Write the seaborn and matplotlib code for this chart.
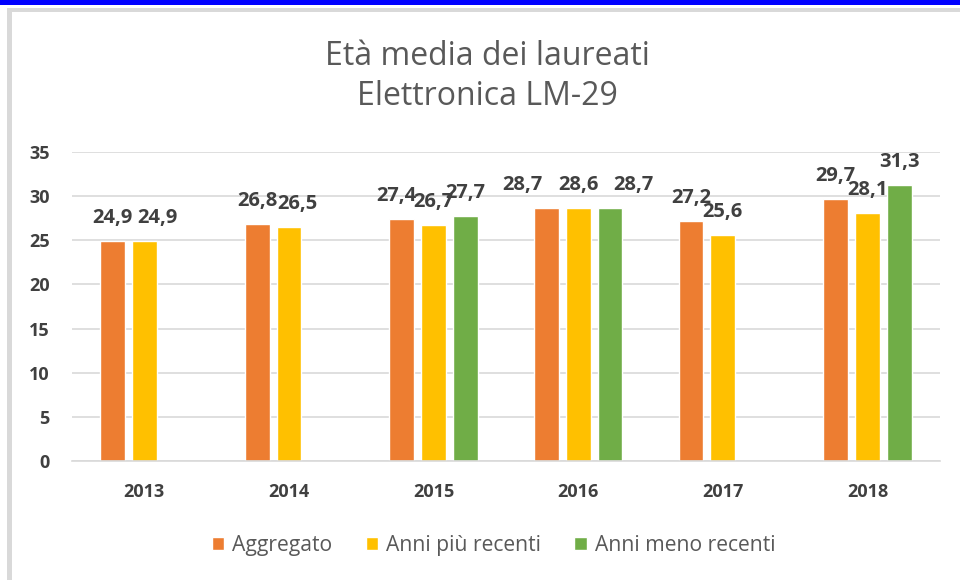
"""
Età media dei laureati - Elettronica LM-29
"""
import matplotlib.pyplot as plt
import numpy as np
import pandas as pd
import seaborn as sns
from matplotlib.patches import Rectangle

anni = ["2013", "2014", "2015", "2016", "2017", "2018"]
aggregato = [24.9, 26.8, 27.4, 28.7, 27.2, 29.7]
piu_recenti = [24.9, 26.5, 26.7, 28.6, 25.6, 28.1]
meno_recenti = [np.nan, np.nan, 27.7, 28.7, np.nan, 31.3]
serie = ["Aggregato", "Anni più recenti", "Anni meno recenti"]
colori = ["#ED7D31", "#FFC000", "#70AD47"]

df = pd.DataFrame({
    "anno": anni * 3,
    "serie": np.repeat(serie, len(anni)),
    "valore": aggregato + piu_recenti + meno_recenti,
})

# spostamenti orizzontali (px) delle etichette, come fa Excel per evitare sovrapposizioni
sposta = {("Anni più recenti", "2013"): 13, ("Anni più recenti", "2014"): 8,
          ("Aggregato", "2015"): -5,
          ("Aggregato", "2016"): -24, ("Anni meno recenti", "2016"): 23}

sns.set_style("white")
plt.rcParams["font.family"] = ["Open Sans", "DejaVu Sans"]

fig = plt.figure(figsize=(9.6, 5.8), dpi=100)
ax = fig.add_axes([0.075, 0.205, 0.904, 0.533])

sns.barplot(
    data=df, x="anno", y="valore", hue="serie", order=anni, hue_order=serie,
    palette=colori, width=0.66, gap=0.22, saturation=1, errorbar=None, ax=ax,
)

# etichette dati
for s, cont in zip(serie, ax.containers):
    for bar in cont:
        h = bar.get_height()
        if np.isnan(h):
            continue
        xc = bar.get_x() + bar.get_width() / 2
        anno = anni[int(round(xc))]
        dx = sposta.get((s, anno), 0) * 0.72
        ax.annotate(
            f"{h:.1f}".replace(".", ","), (xc, h),
            xytext=(dx, 13), textcoords="offset points",
            ha="center", va="baseline", fontsize=14.5, fontweight="bold",
            color="#404040",
        )

ax.set_ylim(0, 35)
ax.set_yticks(range(0, 36, 5))
ax.yaxis.grid(True, color="#D9D9D9", linewidth=1.2)
ax.set_axisbelow(True)
for sp in ["top", "right", "left"]:
    ax.spines[sp].set_visible(False)
ax.spines["bottom"].set_color("#D9D9D9")
ax.spines["bottom"].set_linewidth(1.2)
ax.tick_params(axis="y", length=0, pad=16, labelsize=13, labelcolor="#404040")
ax.tick_params(axis="x", length=0, pad=16, labelsize=13, labelcolor="#404040")
for lab in ax.get_xticklabels() + ax.get_yticklabels():
    lab.set_fontweight("bold")
ax.set_xlabel("")
ax.set_ylabel("")

handles, labels = ax.get_legend_handles_labels()
ax.legend_.remove()
fig.legend(
    handles, labels, loc="center", bbox_to_anchor=(0.514, 0.06), ncol=3,
    frameon=False, fontsize=15.2, labelcolor="#595959",
    handlelength=0.6, handleheight=0.6, handletextpad=0.35, columnspacing=1.6,
)

fig.text(0.508, 0.868, "Età media dei laureati\nElettronica LM-29",
         ha="center", va="center", fontsize=23, color="#595959",
         linespacing=1.3)

# cornice
fig.add_artist(Rectangle((0, 1 - 5 / 580), 1, 5 / 580, transform=fig.transFigure,
                         color="#0000FF", lw=0))
fig.add_artist(Rectangle((7 / 960, 0), 5 / 960, 1 - 9 / 580,
                         transform=fig.transFigure, color="#D9D9D9", lw=0))
fig.add_artist(Rectangle((7 / 960, 1 - 12 / 580), 1, 4 / 580,
                         transform=fig.transFigure, color="#D9D9D9", lw=0))

fig.savefig("out.png", dpi=100)
